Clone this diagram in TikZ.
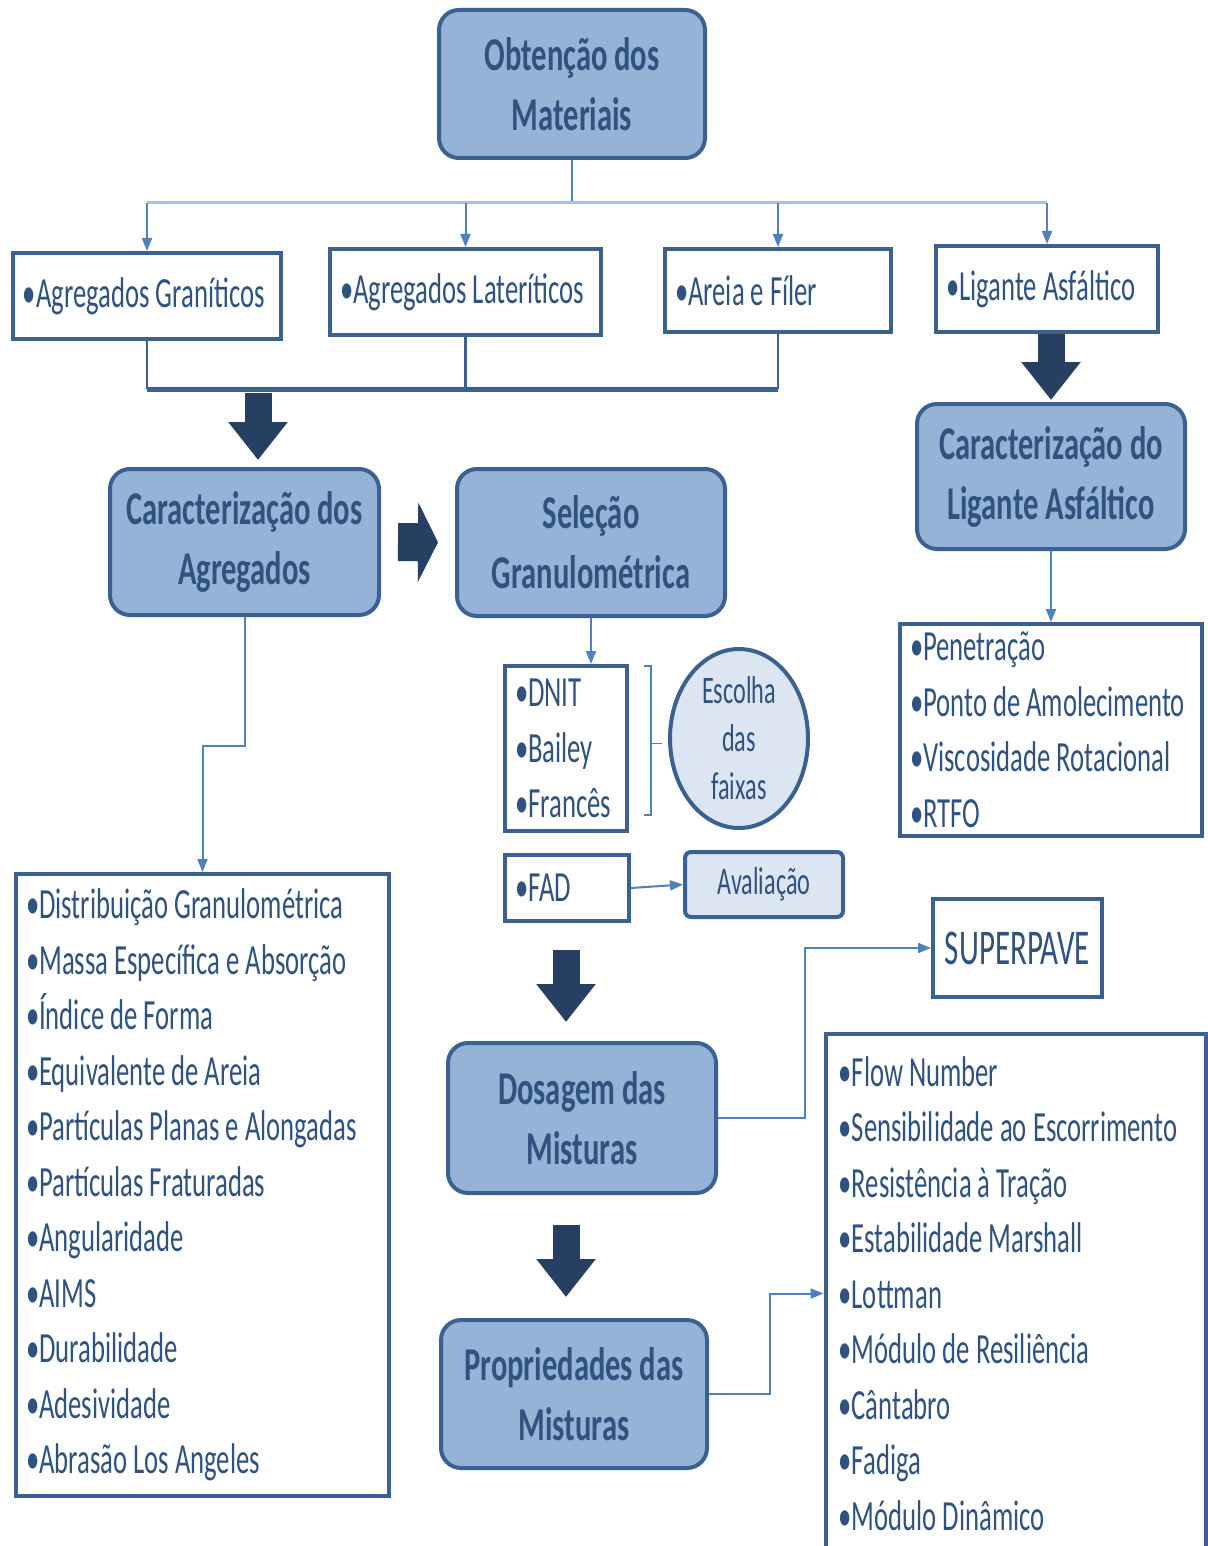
\documentclass[tikz,border=0pt]{standalone}
\usepackage{fontspec}
\setmainfont{Carlito}[FakeStretch=0.62,BoldFeatures={FakeStretch=0.65}]
\usetikzlibrary{arrows.meta, calc, shapes.geometric}

\definecolor{boxfill}{HTML}{95B3D7}
\definecolor{boxline}{HTML}{3A6190}
\definecolor{lightfill}{HTML}{DCE6F2}
\definecolor{linkblue}{HTML}{4F81BD}
\definecolor{busblue}{HTML}{A9C1E0}
\definecolor{arrowfill}{HTML}{263F63}
\definecolor{textblue}{HTML}{30527F}

\newcommand{\itemfont}{\fontsize{21.5}{27.75}\selectfont}
\newcommand{\titlefont}{\fontsize{23.5}{30}\selectfont\bfseries}
\newcommand{\smallfont}{\fontsize{19.5}{24}\selectfont}
\newcommand{\bigfont}{\fontsize{25}{30}\selectfont}

\begin{document}
\begin{tikzpicture}[x=0.5pt, y=-0.5pt,
    titlebox/.style={draw=boxline, line width=2pt, fill=boxfill, rounded corners=10pt, align=center, text=textblue, font=\titlefont, inner sep=0pt},
    itembox/.style={draw=boxline, line width=2pt, fill=white, align=left, text=textblue, font=\itemfont, inner xsep=5pt, inner ysep=0pt, execute at begin node={\spaceskip=0pt\xspaceskip=0pt\relax}},
    lightbox/.style={draw=boxline, line width=2pt, fill=lightfill, align=center, text=textblue, font=\smallfont, inner sep=0pt},
    link/.style={draw=linkblue, line width=1pt, -{Triangle[width=5pt,length=6.5pt]}},
    bigdown/.style={draw=arrowfill, line width=13.5pt, -{Triangle[width=28.5pt,length=19pt]}},
    bigright/.style={draw=arrowfill, line width=19pt, -{Triangle[width=39.5pt,length=10pt]}}]

    \useasboundingbox (0,0) rectangle (1208,1546);
    \fill[white] (0,0) rectangle (1208,1546);

    \node[titlebox, minimum width=133pt, minimum height=74pt] (obt) at (572,84) {Obtenção dos\\Materiais};
    \node[titlebox, minimum width=134.5pt, minimum height=73pt] (cagr) at (244.5,542) {Caracterização dos\\Agregados};
    \node[titlebox, minimum width=134pt, minimum height=73.5pt] (sel) at (591,542.5) {Seleção\\Granulométrica};
    \node[titlebox, minimum width=134pt, minimum height=72.5pt] (clig) at (1051,476.5) {Caracterização do\\Ligante Asfáltico};
    \node[titlebox, minimum width=134pt, minimum height=75pt] (dos) at (582,1118) {Dosagem das\\Misturas};
    \node[titlebox, minimum width=133pt, minimum height=74pt] (prop) at (574,1394) {Propriedades das\\Misturas};

    \node[itembox, text width=124pt, minimum height=43pt] (gran) at (147,296) {•Agregados Graníticos};
    \node[itembox, text width=125.5pt, minimum height=43pt] (late) at (465.5,292) {•Agregados Lateríticos};
    \node[itembox, text width=103pt, minimum height=41.5pt] (areia) at (778,290.5) {•Areia e Fíler};
    \node[itembox, text width=101pt, minimum height=43pt] (lig) at (1047,289) {•Ligante Asfáltico};

    \node[itembox, text width=176.5pt, minimum height=311pt] (agrlist) at (202.5,1185) {•Distribuição Granulométrica\\•Massa Específica e Absorção\\•Índice de Forma\\•Equivalente de Areia\\•Partículas Planas e Alongadas\\•Partículas Fraturadas\\•Angularidade\\•AIMS\\•Durabilidade\\•Adesividade\\•Abrasão Los Angeles};
    \node[itembox, text width=141pt, minimum height=106pt] (liglist) at (1051,730) {•Penetração\\•Ponto de Amolecimento\\•Viscosidade Rotacional\\•RTFO};
    \node[itembox, text width=51pt, minimum height=82.5pt] (faixas) at (566,748.5) {•DNIT\\•Bailey\\•Francês};
    \node[itembox, text width=52pt, minimum height=33pt] (fad) at (567,888) {•FAD};
    \node[itembox, text width=177pt, minimum height=259.5pt, inner xsep=6.5pt] (ensaios) at (1015.5,1293.5) {•Flow Number\\•Sensibilidade ao Escorrimento\\•Resistência à Tração\\•Estabilidade Marshall\\•Lottman\\•Módulo de Resiliência\\•Cântabro\\•Fadiga\\•Módulo Dinâmico};

    \node[lightbox, ellipse, minimum width=69pt, minimum height=89.5pt] (escolha) at (739,738.5) {Escolha\\das\\faixas};
    \node[lightbox, rounded corners=3pt, minimum width=79pt, minimum height=32.5pt] (aval) at (764,884.5) {Avaliação};
    \node[itembox, align=center, font=\bigfont, minimum width=84.5pt, minimum height=49pt] (superpave) at (1017.5,948) {SUPERPAVE};

    \coordinate (top) at (572,203);
    \coordinate (aggbus) at (258,389);

    \draw[linkblue, line width=1pt] (obt.south) -- (top);
    \draw[busblue, line width=1.5pt] (gran.north |- top) -- (lig.north |- top);
    \foreach \n in {gran, late, areia, lig}
        \draw[link] (\n.north |- top) -- (\n.north);

    \foreach \n in {gran, late, areia}
        \draw[boxline, line width=1.2pt] (\n.south) -- (\n.south |- aggbus);
    \draw[boxline, line width=2.5pt] (gran.south |- aggbus) -- (areia.south |- aggbus);

    \draw[bigdown, shorten <=2pt, shorten >=3.5pt] (aggbus) -- (aggbus |- cagr.north);
    \draw[bigdown, shorten >=1pt] (clig.north |- lig.south) -- (clig.north);
    \draw[bigright, shorten <=8.5pt, shorten >=8.5pt] (cagr.east) -- (sel.west);
    \draw[bigdown, shorten <=13.5pt, shorten >=9.5pt] (faixas.south |- fad.south) -- (faixas.south |- dos.north);
    \draw[bigdown, shorten <=15pt, shorten >=10.5pt] (faixas.south |- dos.south) -- (faixas.south |- prop.north);

    \draw[link] (cagr.south) -- ++(0,129) -| (agrlist.north);
    \draw[link] (sel.south) -- (sel.south |- faixas.north);
    \draw[link] (clig.south) -- (liglist.north);
    \draw[link] (fad.east) -- (aval.west);
    \draw[link] (dos.east) -- ++(87,0) |- (superpave.west);
    \draw[link] (prop.east) -- ++(61,0) |- (ensaios.west);

    \draw[linkblue, line width=0.6pt] ($(faixas.north east)+(15,2)$) -- ++(7,0) -- ++(0,149) -- ++(-7,0);
    \draw[linkblue, line width=0.6pt] ($(faixas.east)+(22,-5)$) -- ++(11,0);
\end{tikzpicture}
\end{document}
